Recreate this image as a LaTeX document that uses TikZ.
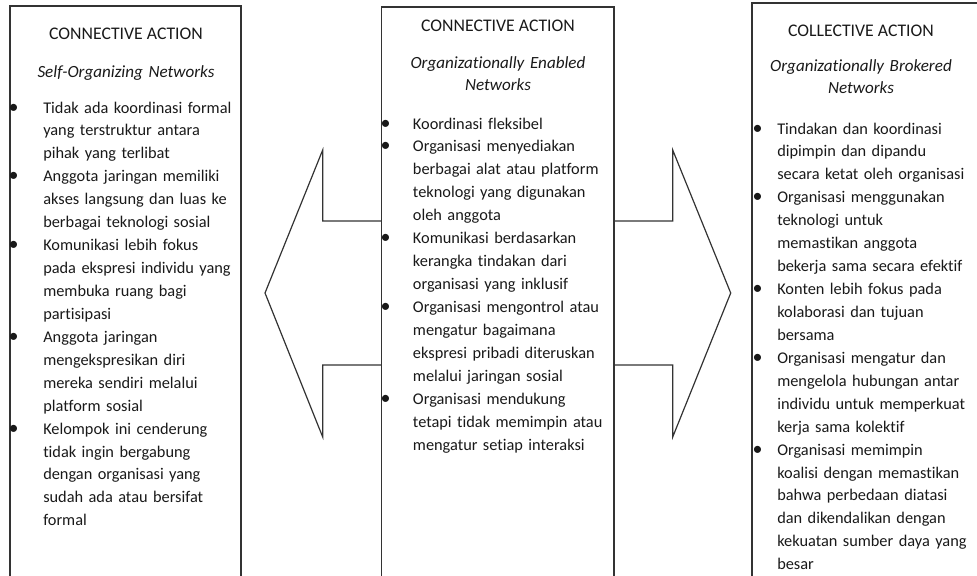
\documentclass[tikz,border=0pt]{standalone}
\usepackage{fontspec}
\setmainfont{Carlito}[Ligatures=NoCommon]
\newlength{\bulgap}
\newcommand{\bul}{\leavevmode\llap{\makebox[\bulgap][l]{\fontsize{15}{15}\selectfont\textbullet}}}
\tikzset{
  panel/.style={draw=black!80, line width=0.9pt},
  heading/.style={text=black!90, font=\fontsize{13.3}{17.2}\selectfont, anchor=base, inner sep=0pt},
  subhead/.style={text=black!90, font=\fontsize{12.8}{17.2}\selectfont\itshape, align=center, text width=250pt, anchor=base, inner sep=0pt},
  itemlist/.style={text=black!90, font=\fontsize{12.25}{17.2}\selectfont, align=left, text width=260pt, anchor=base west, inner sep=0pt, execute at begin node=\setlength{\bulgap}{#1}},
}
\begin{document}
\begin{tikzpicture}[x=0.75pt,y=-0.75pt]
\useasboundingbox (0,0) rectangle (977,575);
\clip (0,0) rectangle (977,575);

% panels
\draw[panel] (10,600) -- (10,6) -- (241,6) -- (241,600);
\draw[panel] (381.7,600) -- (381.7,7) -- (614,7) -- (614,600);
\draw[panel] (752,600) -- (752,3) -- (1000,3);

% block arrows
\draw[panel, line join=miter] (381.7,221) -- (322.7,221) -- (322.7,150) -- (265,293) -- (322.7,437) -- (322.7,365) -- (381.7,365);
\draw[panel, line join=miter] (614,221) -- (672.7,221) -- (672.7,150) -- (730.7,293) -- (672.7,437) -- (672.7,365) -- (614,365);

% left column
\node[heading] (selfttl) at (126,39) {CONNECTIVE ACTION};
\node[subhead] (selfsub) at (126,77) {Self-Organizing Networks};
\node[itemlist=26pt] (selflist) at (43,113) {\bul Tidak ada koordinasi formal\\
yang terstruktur antara\\
pihak yang terlibat\\
\bul Anggota jaringan memiliki\\
akses langsung dan luas ke\\
berbagai teknologi sosial\\
\bul Komunikasi lebih fokus\\
pada ekspresi individu yang\\
membuka ruang bagi\\
partisipasi\\
\bul Anggota jaringan\\
mengekspresikan diri\\
mereka sendiri melalui\\
platform sosial\\
\bul Kelompok ini cenderung\\
tidak ingin bergabung\\
dengan organisasi yang\\
sudah ada atau bersifat\\
formal};

% middle column
\node[heading] (enblttl) at (498,31) {CONNECTIVE ACTION};
\node[subhead] (enblsub) at (498,68) {Organizationally Enabled\\ Networks};
\node[itemlist=24.3pt] (enbllist) at (412.7,129) {\bul Koordinasi fleksibel\\
\bul Organisasi menyediakan\\
berbagai alat atau platform\\
teknologi yang digunakan\\
oleh anggota\\
\bul Komunikasi berdasarkan\\
kerangka tindakan dari\\
organisasi yang inklusif\\
\bul Organisasi mengontrol atau\\
mengatur bagaimana\\
ekspresi pribadi diteruskan\\
melalui jaringan sosial\\
\bul Organisasi mendukung\\
tetapi tidak memimpin atau\\
mengatur setiap interaksi};

% right column
\node[heading] (brkrttl) at (861,36) {COLLECTIVE ACTION};
\node[subhead] (brkrsub) at (861,71) {Organizationally Brokered\\ Networks};
\node[itemlist=18.5pt] (brkrlist) at (777,134) {\bul Tindakan dan koordinasi\\
dipimpin dan dipandu\\
secara ketat oleh organisasi\\
\bul Organisasi menggunakan\\
teknologi untuk\\
memastikan anggota\\
bekerja sama secara efektif\\
\bul Konten lebih fokus pada\\
kolaborasi dan tujuan\\
bersama\\
\bul Organisasi mengatur dan\\
mengelola hubungan antar\\
individu untuk memperkuat\\
kerja sama kolektif\\
\bul Organisasi memimpin\\
koalisi dengan memastikan\\
bahwa perbedaan diatasi\\
dan dikendalikan dengan\\
kekuatan sumber daya yang\\
besar};
\end{tikzpicture}
\end{document}
